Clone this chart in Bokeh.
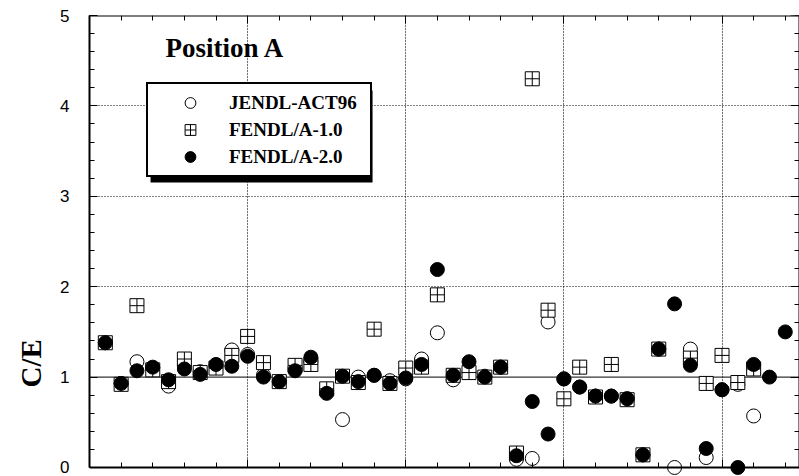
import numpy as np
from bokeh.plotting import figure
from bokeh.models import (Range1d, LinearAxis, FixedTicker, Label, Legend, LegendItem,
                          BoxAnnotation, Span, Grid, ColumnDataSource, Title)
from bokeh.embed import file_html
from bokeh.resources import INLINE

nan = np.nan
# reaction index positions along the x axis
positions = [0.5, 1.0, 1.5, 2.0, 2.5, 3.0, 3.5, 4.0, 4.5, 5.0,
             5.5, 6.0, 6.5, 7.0, 7.5, 8.0, 8.5, 9.0, 9.5, 10.0,
             10.5, 11.0, 11.5, 12.0, 12.5, 13.0, 13.5, 14.0, 14.5, 15.0,
             15.5, 16.0, 16.5, 17.0, 17.5, 18.0, 18.5, 19.0, 19.5, 20.0,
             20.5, 21.0, 21.5, 22.0]
jendl_act96 = [1.38, 0.93, 1.17, 1.10, 0.90, 1.12, 1.06, 1.12, 1.30, 1.25,
               1.02, 0.95, 1.10, 1.17, 0.85, 0.53, 1.00, 1.02, 0.96, 0.98,
               1.20, 1.49, 0.97, 1.05, 1.01, 1.11, 0.09, 0.10, 1.61, 0.98,
               0.89, 0.79, 0.79, 0.76, 0.14, 1.31, 0.00, 1.31, 0.11, 0.86,
               0.92, 0.57, nan, nan]
fendl_a10 = [1.38, 0.92, 1.79, 1.08, 0.95, 1.20, 1.05, 1.10, 1.24, 1.45,
             1.16, 0.95, 1.13, 1.14, 0.87, 1.01, 0.94, 1.53, 0.93, 1.10,
             1.11, 1.91, 1.02, 1.05, 1.00, 1.11, 0.16, 4.30, 1.74, 0.76,
             1.11, 0.78, 1.14, 0.75, 0.14, 1.31, nan, 1.21, 0.93, 1.24,
             0.94, 1.09, nan, nan]
fendl_a20 = [1.38, 0.93, 1.07, 1.11, 0.97, 1.09, 1.03, 1.14, 1.12, 1.23,
             1.00, 0.95, 1.07, 1.22, 0.82, 1.01, 0.95, 1.02, 0.93, 0.99,
             1.14, 2.19, 1.02, 1.17, 1.00, 1.11, 0.13, 0.73, 0.37, 0.98,
             0.89, 0.79, 0.79, 0.76, 0.14, 1.31, 1.81, 1.13, 0.21, 0.86,
             0.00, 1.14, 1.00, 1.50]
series_names = ["JENDL-ACT96", "FENDL/A-1.0", "FENDL/A-2.0"]
y_ticks = [0, 1, 2, 3, 4, 5]

src = ColumnDataSource(dict(x=np.array(positions, dtype=float),
                            j=np.array(jendl_act96, dtype=float),
                            f1=np.array(fendl_a10, dtype=float),
                            f2=np.array(fendl_a20, dtype=float)))

p = figure(width=799, height=476, output_backend="svg", toolbar_location=None,
           x_range=Range1d(0, 22.45), y_range=Range1d(-0.0996, 5.0),
           x_axis_location=None, y_axis_location="left",
           min_border_left=89, min_border_right=0, min_border_top=15, min_border_bottom=0)
p.outline_line_color = None
p.background_fill_color = "white"

y_minor = [round(0.2 * k, 1) for k in range(26)]

# left axis
ya = p.yaxis[0]
ya.ticker = FixedTicker(ticks=y_ticks, minor_ticks=y_minor)
ya.bounds = (0, 5)
ya.axis_line_width = 2
ya.axis_line_color = "black"
ya.major_tick_line_color = "black"
ya.minor_tick_line_color = "black"
ya.major_tick_in = 8
ya.major_tick_out = 0
ya.minor_tick_in = 5
ya.minor_tick_out = 0
ya.major_label_standoff = 20
ya.major_label_text_font = "Liberation Sans"
ya.major_label_text_font_size = "17px"
ya.major_label_text_color = "black"

xt = FixedTicker(ticks=[0, 5, 10, 15, 20], minor_ticks=list(range(23)))
bottom = LinearAxis(fixed_location=0, ticker=xt, axis_line_width=2,
                    major_tick_in=8, major_tick_out=0, minor_tick_in=5, minor_tick_out=0,
                    major_label_text_color=None)
top = LinearAxis(fixed_location=5, ticker=xt, axis_line_width=2,
                 major_tick_in=8, major_tick_out=0, minor_tick_in=5, minor_tick_out=0,
                 major_label_text_color=None)
right = LinearAxis(fixed_location=22.45, bounds=(0, 5),
                   ticker=FixedTicker(ticks=y_ticks, minor_ticks=y_minor),
                   axis_line_width=2, major_tick_in=9, major_tick_out=0,
                   minor_tick_in=5, minor_tick_out=0, major_label_text_color=None)
p.add_layout(bottom, "below")
p.add_layout(top, "above")
p.add_layout(right, "right")

# grids
p.ygrid.ticker = FixedTicker(ticks=[2, 3, 4])
p.ygrid.grid_line_color = "black"
p.ygrid.grid_line_dash = "1 2"
p.ygrid.grid_line_width = 1
xg = Grid(dimension=0, ticker=FixedTicker(ticks=[5, 10, 15, 20]),
          grid_line_color="black", grid_line_dash="1 2", grid_line_width=1)
p.add_layout(xg)
p.add_layout(BoxAnnotation(top=0, fill_color="white", fill_alpha=1, line_color=None, level="underlay"))
p.add_layout(Span(location=1, dimension="width", line_color="black", line_width=1, level="underlay"))

r1 = p.scatter("x", "j", source=src, marker="circle", size=14, fill_color="white",
               line_color="black", line_width=1)
r2 = p.scatter("x", "f1", source=src, marker="square_cross", size=14, fill_color="white",
               line_color="black", line_width=1)
r3 = p.scatter("x", "f2", source=src, marker="circle", size=14, fill_color="black",
               line_color="black", line_width=1)

# legend shadow
p.add_layout(BoxAnnotation(left=1.93, right=8.95, top=4.17, bottom=3.153,
                           fill_color="black", fill_alpha=1, line_color=None, level="glyph"))
legend = Legend(items=[LegendItem(label=series_names[0], renderers=[r1]),
                       LegendItem(label=series_names[1], renderers=[r2]),
                       LegendItem(label=series_names[2], renderers=[r3])],
                location=(57, 299), padding=5, margin=0, spacing=0,
                glyph_height=27, glyph_width=74, label_standoff=2, label_width=136,
                label_height=27,
                label_text_font="Liberation Serif", label_text_font_style="bold",
                label_text_font_size="19px", label_text_baseline="middle",
                label_text_color="black",
                border_line_color="black", border_line_width=2, border_line_alpha=1,
                background_fill_color="white", background_fill_alpha=1)
p.add_layout(legend)

p.add_layout(Label(x=2.40, y=4.635, text="Position  A", text_font="Liberation Serif",
                   text_font_style="bold", text_font_size="27px", text_baseline="middle",
                   text_align="left", text_color="black"))

ylab = Title(text="C/E", align="left", offset=89, text_font="Liberation Serif",
             text_font_style="bold", text_font_size="29px", text_color="black", standoff=22)
p.add_layout(ylab, "left")

open("out.html", "w").write(file_html(p, INLINE))
